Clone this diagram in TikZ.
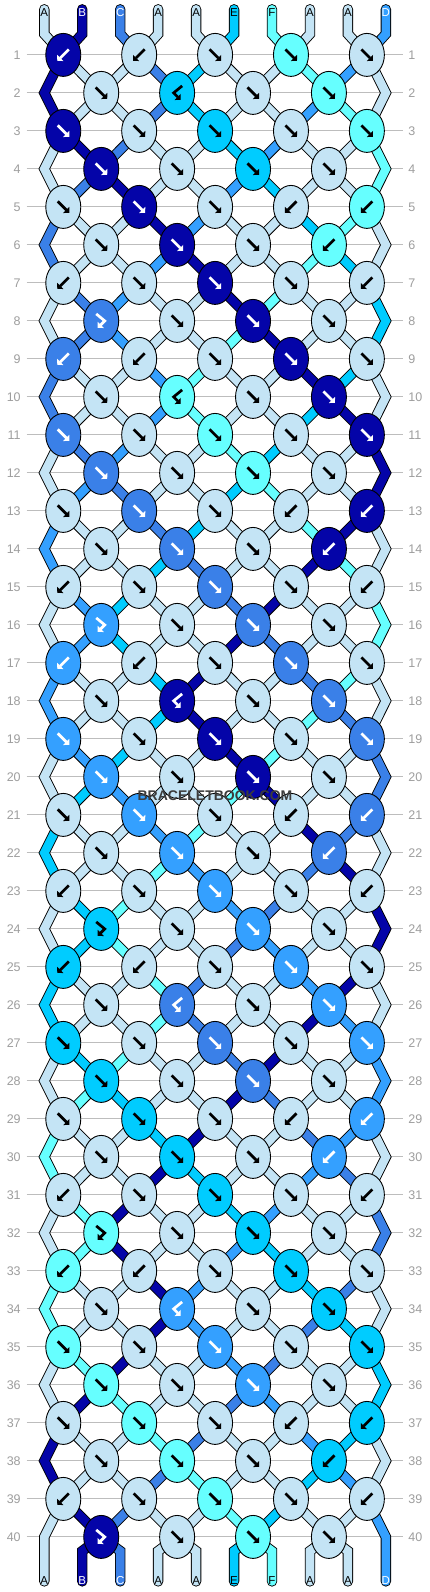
\documentclass[tikz,border=0pt]{standalone}
\usepackage{fontspec}
\setmainfont{Liberation Sans}
\usetikzlibrary{shapes.geometric, arrows.meta}
\definecolor{colA}{HTML}{C4E4F5}
\definecolor{colB}{HTML}{0404A8}
\definecolor{colC}{HTML}{3A80E8}
\definecolor{colD}{HTML}{34A0FF}
\definecolor{colE}{HTML}{00CCFF}
\definecolor{colF}{HTML}{66FFFF}
\colorlet{arrA}{black}
\colorlet{arrB}{white}
\colorlet{arrC}{white}
\colorlet{arrD}{white}
\colorlet{arrE}{black}
\colorlet{arrF}{black}
\colorlet{lblA}{black}
\colorlet{lblB}{white}
\colorlet{lblC}{white}
\colorlet{lblD}{white}
\colorlet{lblE}{black}
\colorlet{lblF}{black}
\definecolor{gridgray}{HTML}{BDBDBD}
\definecolor{numgray}{HTML}{9E9E9E}
\definecolor{brandgray}{HTML}{3C3C3C}
% knot colour: f,x take the left thread, b,y the right one (read from the row after)
\def\pickf#1#2{#2}
\def\pickb#1#2{#1}
\def\pickx#1#2{#1}
\def\picky#1#2{#2}
% row / knot types / threads after the row
\def\knotrows{1/{b,b,f,f,f}/{B,A,A,C,E,A,A,F,D,A},
2/{f,y,f,f}/{B,A,A,C,E,A,A,D,F,A},
3/{f,f,f,f,f}/{A,B,C,A,A,E,D,A,A,F},
4/{f,f,f,f}/{A,C,B,A,A,D,E,A,A,F},
5/{f,f,f,b,b}/{C,A,A,B,D,A,A,E,F,A},
6/{f,f,f,b}/{C,A,A,D,B,A,A,F,E,A},
7/{b,f,f,f,b}/{A,C,D,A,A,B,F,A,A,E},
8/{x,f,f,f}/{A,C,D,A,A,F,B,A,A,E},
9/{b,b,f,f,f}/{C,A,A,D,F,A,A,B,E,A},
10/{f,y,f,f}/{C,A,A,D,F,A,A,E,B,A},
11/{f,f,f,f,f}/{A,C,D,A,A,F,E,A,A,B},
12/{f,f,f,f}/{A,D,C,A,A,E,F,A,A,B},
13/{f,f,f,b,b}/{D,A,A,C,E,A,A,F,B,A},
14/{f,f,f,b}/{D,A,A,E,C,A,A,B,F,A},
15/{b,f,f,f,b}/{A,D,E,A,A,C,B,A,A,F},
16/{x,f,f,f}/{A,D,E,A,A,B,C,A,A,F},
17/{b,b,f,f,f}/{D,A,A,E,B,A,A,C,F,A},
18/{f,y,f,f}/{D,A,A,E,B,A,A,F,C,A},
19/{f,f,f,f,f}/{A,D,E,A,A,B,F,A,A,C},
20/{f,f,f,f}/{A,E,D,A,A,F,B,A,A,C},
21/{f,f,f,b,b}/{E,A,A,D,F,A,A,B,C,A},
22/{f,f,f,b}/{E,A,A,F,D,A,A,C,B,A},
23/{b,f,f,f,b}/{A,E,F,A,A,D,C,A,A,B},
24/{x,f,f,f}/{A,E,F,A,A,C,D,A,A,B},
25/{b,b,f,f,f}/{E,A,A,F,C,A,A,D,B,A},
26/{f,y,f,f}/{E,A,A,F,C,A,A,B,D,A},
27/{f,f,f,f,f}/{A,E,F,A,A,C,B,A,A,D},
28/{f,f,f,f}/{A,F,E,A,A,B,C,A,A,D},
29/{f,f,f,b,b}/{F,A,A,E,B,A,A,C,D,A},
30/{f,f,f,b}/{F,A,A,B,E,A,A,D,C,A},
31/{b,f,f,f,b}/{A,F,B,A,A,E,D,A,A,C},
32/{x,f,f,f}/{A,F,B,A,A,D,E,A,A,C},
33/{b,b,f,f,f}/{F,A,A,B,D,A,A,E,C,A},
34/{f,y,f,f}/{F,A,A,B,D,A,A,C,E,A},
35/{f,f,f,f,f}/{A,F,B,A,A,D,C,A,A,E},
36/{f,f,f,f}/{A,B,F,A,A,C,D,A,A,E},
37/{f,f,f,b,b}/{B,A,A,F,C,A,A,D,E,A},
38/{f,f,f,b}/{B,A,A,C,F,A,A,E,D,A},
39/{b,f,f,f,b}/{A,B,C,A,A,F,E,A,A,D},
40/{x,f,f,f}/{A,B,C,A,A,E,F,A,A,D}}
\tikzset{
    glyphf/.pic={\draw[glyph] (-5.5,-5.5) -- (6,6);},
    glyphb/.pic={\draw[glyph] (5.5,-5.5) -- (-6,6);},
    glyphx/.pic={\draw[glyph] (-5,-7) -- (3.5,0) -- (-3.5,7);},
    glyphy/.pic={\draw[glyph] (5,-7) -- (-3.5,0) -- (3.5,7);}
}
\begin{document}
\begin{tikzpicture}[x=1pt, y=-1pt,
        strand/.style={draw=black, line width=0.9pt, double distance=8.6pt, line join=miter, line cap=round},
        knot/.style={ellipse, draw=black, line width=0.9pt, minimum width=35pt, minimum height=43pt, inner sep=0pt},
        glyph/.style={line width=2.7pt, line join=miter, -{Triangle[width=8.5pt,length=4.2pt]}},
        rownum/.style={font=\fontsize{12.5}{13}\selectfont, text=numgray, inner sep=0pt},
        tiplbl/.style={font=\fontsize{11.5}{12}\selectfont, inner sep=0pt},
        gridline/.style={draw=gridgray, line width=0.9pt},
        brand/.style={font=\bfseries\fontsize{14}{14}\selectfont, text=brandgray, inner sep=0pt}
    ]
    \fill[white] (0,0) rectangle (430,1592);
    \useasboundingbox (0,0) rectangle (430,1592);

    % thread colours per row
    \foreach \lt [count=\p from 0] in {A,B,C,A,A,E,F,A,A,D}{
        \expandafter\xdef\csname sc0-\p\endcsname{\lt}
    }
    \foreach \r/\ks/\cols in \knotrows {
        \expandafter\xdef\csname kt\r\endcsname{\ks}
        \foreach \lt [count=\p from 0] in \cols {\expandafter\xdef\csname sc\r-\p\endcsname{\lt}}
    }

    % where each thread sits in each row
    \foreach \r in {1,...,40}{
        \foreach \p in {0,...,9}{
            \pgfmathsetmacro\px{44.3+37.95*\p + 18.975*(isodd(\r) ? (isodd(\p) ? -1 : 1) : ((\p==0 || \p==9) ? 0 : (isodd(\p) ? 1 : -1)))}
            \coordinate (p\r-\p) at (\px, {54.9+38*(\r-1)});
        }
    }
    \foreach \p in {0,...,9}{
        \coordinate (top-\p) at ({44.3+37.95*\p}, 9.3);
        \coordinate (topb-\p) at ({44.3+37.95*\p}, 34);
        \coordinate (botb-\p) at ({44.3+37.95*\p}, 1551);
        \coordinate (p41-\p) at ({44.3+37.95*\p}, 1581.4);
    }

    % row numbers and grid
    \foreach \r in {1,...,40}{
        \node[rownum, anchor=east, outer xsep=6pt] (ln-\r) at (26.7, {54.9+38*(\r-1)}) {\r};
        \node[rownum, anchor=west, outer xsep=5pt] (rn-\r) at (403.3, {54.9+38*(\r-1)}) {\r};
        \draw[gridline] (ln-\r) -- (rn-\r);
    }

    % threads
    \foreach \p in {0,...,9}{
        \edef\strc{\csname sc0-\p\endcsname}
        \draw[strand, double=col\strc] (top-\p) -- (topb-\p) -- (p1-\p);
    }
    \foreach \r in {1,...,39}{
        \pgfmathtruncatemacro\rn{\r+1}
        \foreach \p in {1,...,8}{
            \edef\strc{\csname sc\r-\p\endcsname}
            \draw[strand, double=col\strc] (p\r-\p) -- (p\rn-\p);
        }
    }
    \foreach \r in {2,4,...,40}{
        \pgfmathtruncatemacro\rp{\r-1}
        \pgfmathtruncatemacro\rn{\r+1}
        \foreach \p in {0,9}{
            \edef\strc{\csname sc\r-\p\endcsname}
            \draw[strand, double=col\strc] (p\rp-\p) -- (p\r-\p) -- (p\rn-\p);
        }
    }
    \foreach \p in {1,...,8}{
        \edef\strc{\csname sc40-\p\endcsname}
        \draw[strand, double=col\strc] (p40-\p) -- (botb-\p) -- (p41-\p);
    }

    % knots
    \foreach \r in {1,...,40}{
        \edef\ks{\csname kt\r\endcsname}
        \foreach \ty [count=\i from 0] in \ks {
            \pgfmathtruncatemacro\pL{isodd(\r) ? 2*\i : 2*\i+1}
            \pgfmathtruncatemacro\pR{\pL+1}
            \edef\kc{\csname pick\ty\endcsname{\csname sc\r-\pL\endcsname}{\csname sc\r-\pR\endcsname}}
            \node[knot, fill=col\kc] (k\r-\i) at (p\r-\pL) {};
            \pic[color=arr\kc] at (k\r-\i) {glyph\ty};
        }
    }

    % thread letters
    \foreach \lt [count=\p from 0] in {A,B,C,A,A,E,F,A,A,D}{
        \node[tiplbl, text=lbl\lt] (tl-\p) at ({44.3+37.95*\p}, 12.7) {\lt};
        \node[tiplbl, text=lbl\lt] (bl-\p) at ({44.3+37.95*\p}, 1580.7) {\lt};
    }

    \node[brand] (brand) at (215, 795.3) {BRACELETBOOK.COM};
\end{tikzpicture}
\end{document}
